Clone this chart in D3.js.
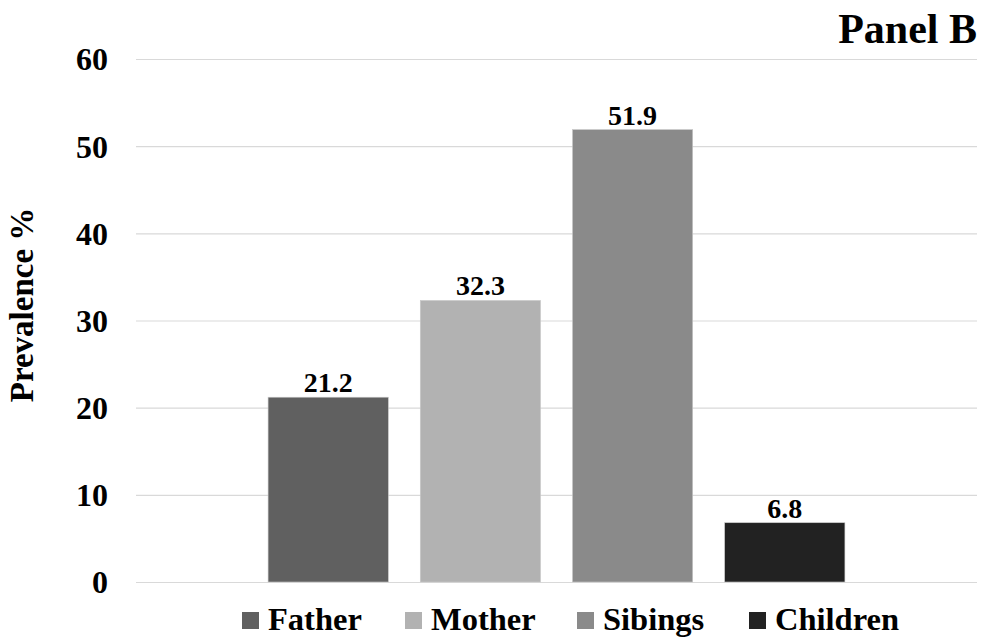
<!DOCTYPE html>
<html>
<head>
<meta charset="utf-8">
<script src="https://cdn.jsdelivr.net/npm/d3@7"></script>
<style>
  html, body { margin: 0; padding: 0; background: #fff; }
  svg { display: block; font-family: "Liberation Serif", "Times New Roman", serif; font-weight: bold; }
</style>
</head>
<body>
<svg id="chart" width="985" height="641"></svg>
<script>
// Prevalence by family member
const groups = ["All"];
const series = ["Father", "Mother", "Sibings", "Children"];
const values = [21.2, 32.3, 51.9, 6.8];
const colors = ["#606060", "#b2b2b2", "#8a8a8a", "#222222"];
const yTicks = [0, 10, 20, 30, 40, 50, 60];

const svg = d3.select("#chart");
const plot = { left: 136, right: 977, top: 59, bottom: 582 };

const y = d3.scaleLinear().domain([0, 60]).range([plot.bottom, plot.top]);
const x0 = d3.scaleBand().domain(groups).range([plot.left, plot.right])
  .paddingInner(0).paddingOuter(0.229);
const x1 = d3.scaleBand().domain(series).range([0, x0.bandwidth()])
  .paddingInner(0.21).paddingOuter(0);
const color = d3.scaleOrdinal().domain(series).range(colors);

// gridlines + tick labels
const yAxis = d3.axisLeft(y).tickValues(yTicks).tickSize(-(plot.right - plot.left)).tickPadding(28);
const ga = svg.append("g").attr("transform", `translate(${plot.left},0)`).call(yAxis);
ga.select(".domain").remove();
ga.selectAll(".tick line").attr("stroke", "#d9d9d9").attr("stroke-width", 1.2);
ga.selectAll(".tick text")
  .attr("font-family", "Liberation Serif, Times New Roman, serif")
  .attr("font-weight", "bold")
  .attr("font-size", 32)
  .attr("fill", "#000")
  .attr("dy", "0.34em");

// bars
const rows = series.map((s, i) => ({ group: groups[0], key: s, value: values[i] }));
const bars = svg.append("g");
bars.selectAll("rect").data(rows).join("rect")
  .attr("x", d => x0(d.group) + x1(d.key))
  .attr("y", d => y(d.value))
  .attr("width", x1.bandwidth())
  .attr("height", d => y(0) - y(d.value))
  .attr("fill", d => color(d.key))
  .attr("stroke", "#c8c8c8")
  .attr("stroke-width", 0.6);

// value labels
bars.selectAll("text").data(rows).join("text")
  .attr("x", d => x0(d.group) + x1(d.key) + x1.bandwidth() / 2)
  .attr("y", d => y(d.value) - 5)
  .attr("text-anchor", "middle")
  .attr("font-size", 28)
  .attr("fill", "#000")
  .text(d => d.value.toFixed(1));

// y-axis title
svg.append("text")
  .attr("transform", `translate(33,305) rotate(-90)`)
  .attr("text-anchor", "middle")
  .attr("font-size", 33)
  .attr("fill", "#000")
  .text("Prevalence %");

// panel title
svg.append("text")
  .attr("x", 977).attr("y", 43)
  .attr("text-anchor", "end")
  .attr("font-size", 42)
  .attr("fill", "#000")
  .text("Panel B");

// legend
const legendX = [242, 405, 577, 749];
const legend = svg.append("g");
const items = legend.selectAll("g").data(series).join("g")
  .attr("transform", (d, i) => `translate(${legendX[i]},0)`);
items.append("rect")
  .attr("x", 0).attr("y", 612).attr("width", 17).attr("height", 17)
  .attr("fill", d => color(d));
items.append("text")
  .attr("x", 26).attr("y", 630)
  .attr("font-size", 32.5)
  .attr("fill", "#000")
  .text(d => d);
</script>
</body>
</html>
